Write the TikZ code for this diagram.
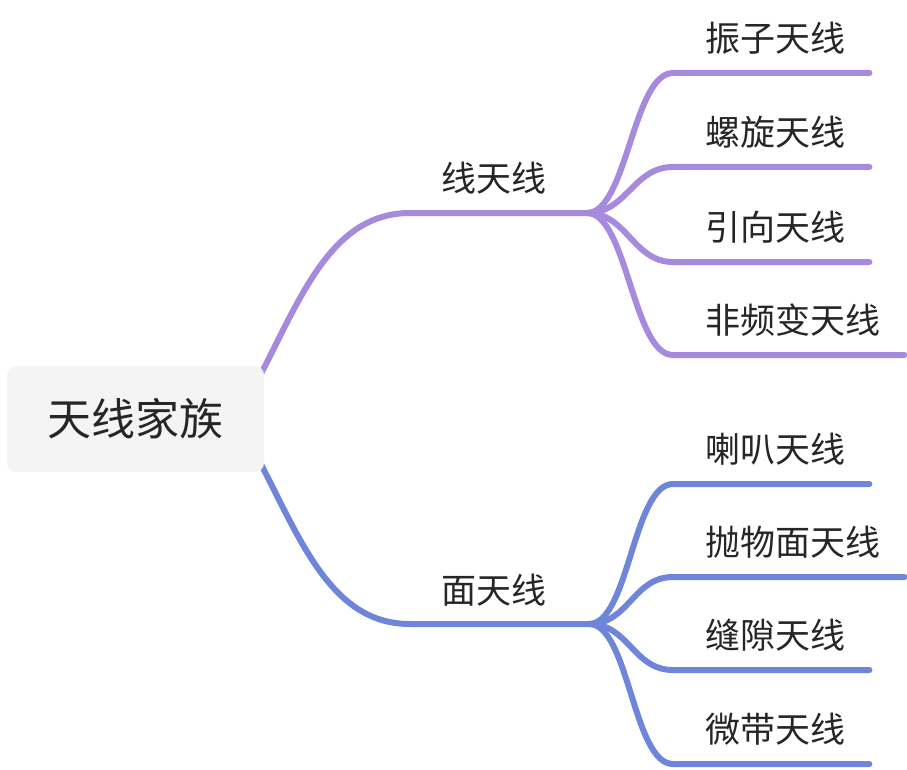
\documentclass[tikz,border=0pt]{standalone}
\usepackage{fontspec}
\setmainfont{Noto Sans CJK SC}
\usetikzlibrary{backgrounds}
\definecolor{wirepurple}{HTML}{A68ADE}
\definecolor{faceblue}{HTML}{6F85D9}
\definecolor{rootgray}{HTML}{F4F4F4}
\definecolor{inkgray}{HTML}{262626}
\tikzset{
  root/.style={fill=rootgray, rounded corners=9pt, inner sep=0pt, minimum width=257pt, minimum height=106pt, font=\fontsize{44}{50}\selectfont, text=inkgray},
  topic/.style={inner sep=0pt, font=\fontsize{35}{40}\selectfont, text=inkgray},
  leaf/.style={inner sep=0pt, anchor=west, font=\fontsize{35}{40}\selectfont, text=inkgray},
  wireline/.style={draw=wirepurple, line width=6pt, line cap=round},
  faceline/.style={draw=faceblue, line width=6pt, line cap=round}
}
\begin{document}
\begin{tikzpicture}[x=1pt, y=-1pt]
    \useasboundingbox (0,0) rectangle (907,770);
    \node[root] (family) at (135.5,419) {天线家族};

    \node[topic] (wire) at (494,178) {线天线};
    \node[topic] (face) at (494,590) {面天线};
    \coordinate (wirej) at (587,213);
    \coordinate (facej) at (589,624);

    \node[leaf] (dipole) at (705,38) {振子天线};
    \node[leaf] (helix) at (705,132) {螺旋天线};
    \node[leaf] (yagi) at (705,227) {引向天线};
    \node[leaf] (indep) at (705,320) {非频变天线};

    \node[leaf] (horn) at (705,449) {喇叭天线};
    \node[leaf] (dish) at (705,542) {抛物面天线};
    \node[leaf] (slot) at (705,635) {缝隙天线};
    \node[leaf] (strip) at (705,729) {微带天线};

    % root to the two branches, partly hidden behind the root box
    \begin{scope}[on background layer]
    \draw[wireline] ([shift={(-8,-36)}]family.east) .. controls (300,300) and (330,213) .. (410,213) -- (wirej);
    \draw[faceline] ([shift={(-8,36)}]family.east) .. controls (300,538) and (330,624) .. (410,624) -- (facej);
    \end{scope}

    \draw[wireline] (wirej) .. controls +(40,0) and +(-40,0) .. ([shift={(-32,35)}]dipole.west) -- ([shift={(24,35)}]dipole.east);
    \draw[wireline] (wirej) .. controls +(40,0) and +(-40,0) .. ([shift={(-32,35)}]helix.west) -- ([shift={(24,35)}]helix.east);
    \draw[wireline] (wirej) .. controls +(40,0) and +(-40,0) .. ([shift={(-32,35)}]yagi.west) -- ([shift={(24,35)}]yagi.east);
    \draw[wireline] (wirej) .. controls +(40,0) and +(-40,0) .. ([shift={(-32,35)}]indep.west) -- ([shift={(24,35)}]indep.east);

    \draw[faceline] (facej) .. controls +(40,0) and +(-40,0) .. ([shift={(-32,35)}]horn.west) -- ([shift={(24,35)}]horn.east);
    \draw[faceline] (facej) .. controls +(40,0) and +(-40,0) .. ([shift={(-32,35)}]dish.west) -- ([shift={(24,35)}]dish.east);
    \draw[faceline] (facej) .. controls +(40,0) and +(-40,0) .. ([shift={(-32,35)}]slot.west) -- ([shift={(24,35)}]slot.east);
    \draw[faceline] (facej) .. controls +(40,0) and +(-40,0) .. ([shift={(-32,35)}]strip.west) -- ([shift={(24,35)}]strip.east);
\end{tikzpicture}
\end{document}
